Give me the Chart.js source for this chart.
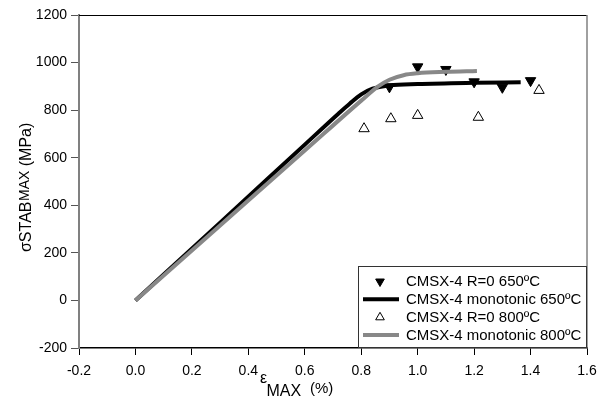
<!DOCTYPE html>
<html>
<head>
<meta charset="utf-8">
<title>CMSX-4 stabilised stress</title>
<script src="https://cdn.jsdelivr.net/npm/chart.js@4/dist/chart.umd.min.js"></script>
<style>
  body { margin: 0; background: #fff; }
</style>
</head>
<body>
<canvas id="myChart" width="608" height="401"></canvas>
<script>
// R=0 fatigue tests, stabilised max stress vs max strain
var strain650 = [0.90, 1.00, 1.10, 1.20, 1.30, 1.40];
var stress650 = [898, 982, 971, 919, 896, 924];
var strain800 = [0.81, 0.905, 1.00, 1.215, 1.43];
var stress800 = [722, 764, 778, 770, 883];

// monotonic tensile curves
var monoStrain650 = [0, 0.30, 0.60, 0.72, 0.76, 0.80, 0.84, 0.90, 1.00, 1.20, 1.365];
var monoStress650 = [0, 327, 655, 786, 828, 866, 890, 904, 910, 915, 917];
var monoStrain800 = [0, 0.30, 0.60, 0.80, 0.86, 0.90, 0.95, 1.00, 1.10, 1.21];
var monoStress800 = [0, 315, 630, 840, 900, 928, 947, 955, 961, 965];

var xTickValues = [-0.2, 0.0, 0.2, 0.4, 0.6, 0.8, 1.0, 1.2, 1.4, 1.6];
var yTickValues = [-200, 0, 200, 400, 600, 800, 1000, 1200];

var labels = ["CMSX-4 R=0 650\u00BAC", "CMSX-4 monotonic 650\u00BAC",
              "CMSX-4 R=0 800\u00BAC", "CMSX-4 monotonic 800\u00BAC"];

function pairs(xs, ys) {
    return xs.map(function (x, i) { return { x: x, y: ys[i] }; });
}

Chart.defaults.font.family = "'Liberation Sans', Arial, sans-serif";
Chart.defaults.font.size = 14;
Chart.defaults.color = "#000";

// frame, axis titles and the boxed legend
var extras = {
    id: "extras",
    afterDraw: function (chart) {
        var ctx = chart.ctx, a = chart.chartArea;
        ctx.save();
        ctx.lineWidth = 1;
        ctx.strokeStyle = "#000";
        ctx.beginPath(); ctx.moveTo(a.left, a.top + 0.5); ctx.lineTo(a.right, a.top + 0.5); ctx.stroke();
        ctx.strokeStyle = "#808080";
        ctx.lineWidth = 1.5;
        ctx.beginPath(); ctx.moveTo(a.right, a.top); ctx.lineTo(a.right, a.bottom); ctx.stroke();

        // x title
        ctx.fillStyle = "#000";
        ctx.textBaseline = "alphabetic";
        ctx.textAlign = "left";
        ctx.font = "16px 'Liberation Sans', Arial, sans-serif";
        ctx.fillText("\u03B5", 260, 383);
        ctx.fillText("MAX", 266.5, 396);
        ctx.font = "15px 'Liberation Sans', Arial, sans-serif";
        ctx.fillText("(%)", 310, 393);

        // y title
        ctx.save();
        ctx.translate(31, 252);
        ctx.rotate(-Math.PI / 2);
        ctx.font = "16px 'Liberation Sans', Arial, sans-serif";
        ctx.fillText("\u03C3STAB", 0, 0);
        var w = ctx.measureText("\u03C3STAB").width;
        ctx.font = "14px 'Liberation Sans', Arial, sans-serif";
        ctx.fillText("MAX", w + 0.5, -2);
        var w2 = ctx.measureText("MAX").width;
        ctx.font = "16px 'Liberation Sans', Arial, sans-serif";
        ctx.fillText(" (MPa)", w + w2 + 0.5, 0);
        ctx.restore();

        // legend
        var bx = 358.5, by = 266.5, bw = 228, bh = 81;
        ctx.fillStyle = "#fff";
        ctx.fillRect(bx, by, bw, bh);
        ctx.strokeStyle = "#333";
        ctx.lineWidth = 1;
        ctx.strokeRect(bx, by, bw, bh);
        var order = [0, 1, 2, 3];
        var rows = [281.5, 299.3, 317.3, 335];
        order.forEach(function (idx, r) {
            var ds = chart.data.datasets[idx];
            var cy = rows[r];
            if (ds.showLine) {
                ctx.strokeStyle = ds.borderColor;
                ctx.lineWidth = ds.borderWidth;
                ctx.beginPath(); ctx.moveTo(363, cy); ctx.lineTo(399, cy); ctx.stroke();
            } else {
                ctx.fillStyle = ds.backgroundColor;
                ctx.strokeStyle = ds.borderColor;
                ctx.lineWidth = ds.borderWidth;
                Chart.helpers.drawPoint(ctx, {
                    pointStyle: ds.pointStyle,
                    rotation: ds.rotation || 0,
                    radius: 5,
                    borderWidth: ds.borderWidth
                }, 380, cy);
            }
            ctx.save();
            ctx.fillStyle = "#000";
            ctx.font = "14px 'Liberation Sans', Arial, sans-serif";
            ctx.textBaseline = "middle";
            ctx.translate(406, cy);
            ctx.scale(1.07, 1);
            ctx.fillText(labels[idx], 0, 1);
            ctx.restore();
        });
        ctx.restore();
    }
};

var myChart = document.getElementById("myChart").getContext("2d");

var stressChart = new Chart(myChart, {
    type: "scatter",
    data: {
        datasets: [{
            label: labels[0],
            data: pairs(strain650, stress650),
            pointStyle: "triangle",
            rotation: 180,
            pointRadius: 6,
            backgroundColor: "#000",
            borderColor: "#000",
            borderWidth: 1,
            order: 4
        }, {
            label: labels[1],
            data: pairs(monoStrain650, monoStress650),
            showLine: true,
            cubicInterpolationMode: "monotone",
            pointRadius: 0,
            borderColor: "#000",
            backgroundColor: "#000",
            borderWidth: 4,
            order: 3
        }, {
            label: labels[2],
            data: pairs(strain800, stress800),
            pointStyle: "triangle",
            pointRadius: 6,
            backgroundColor: "#fff",
            borderColor: "#000",
            borderWidth: 1,
            order: 1
        }, {
            label: labels[3],
            data: pairs(monoStrain800, monoStress800),
            showLine: true,
            cubicInterpolationMode: "monotone",
            pointRadius: 0,
            borderColor: "#888888",
            backgroundColor: "#888888",
            borderWidth: 4,
            order: 2
        }]
    },
    options: {
        responsive: false,
        animation: false,
        events: [],
        layout: { padding: { top: 15, right: 21, left: 0, bottom: 0 } },
        plugins: {
            legend: { display: false },
            tooltip: { enabled: false }
        },
        scales: {
            x: {
                type: "linear",
                min: -0.2,
                max: 1.6,
                afterBuildTicks: function (axis) {
                    axis.ticks = xTickValues.map(function (v) { return { value: v }; });
                },
                afterFit: function (scale) { scale.height = 53; },
                ticks: {
                    padding: 8,
                    maxRotation: 0,
                    callback: function (v) { return Number(v).toFixed(1); }
                },
                grid: { drawOnChartArea: false, drawTicks: true, tickLength: 7, color: "#000" },
                border: { display: true, color: "#000", width: 1.5 }
            },
            y: {
                type: "linear",
                min: -200,
                max: 1200,
                afterBuildTicks: function (axis) {
                    axis.ticks = yTickValues.map(function (v) { return { value: v }; });
                },
                afterFit: function (scale) { scale.width = 79; },
                ticks: {
                    padding: 4,
                    callback: function (v) { return String(v); }
                },
                grid: { drawOnChartArea: false, drawTicks: true, tickLength: 8, color: "#555" },
                border: { display: true, color: "#808080", width: 2 }
            }
        }
    },
    plugins: [extras]
});
</script>
</body>
</html>
